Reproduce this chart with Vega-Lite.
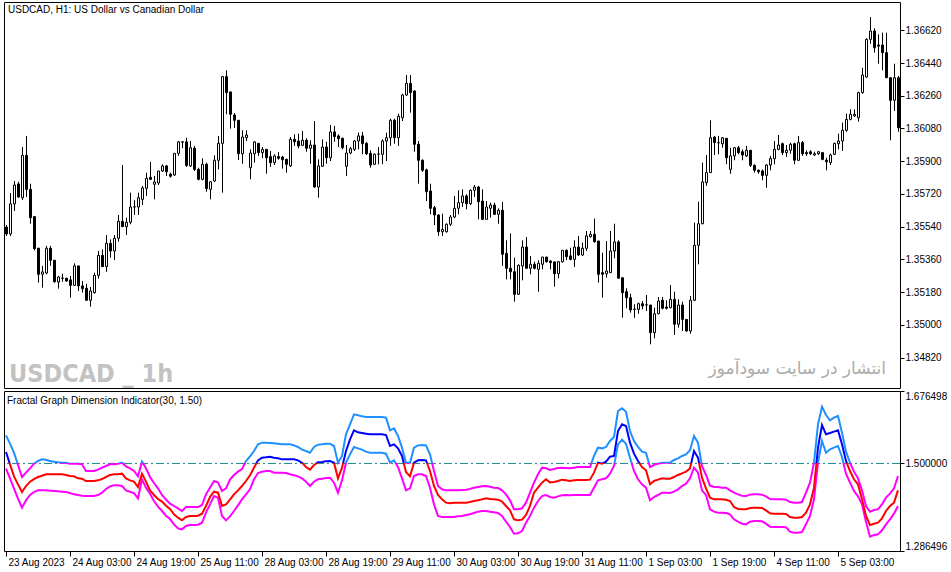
{
"$schema": "https://vega.github.io/schema/vega-lite/v6.json",
"background": "white",
"padding": {"left": 1, "top": 1, "right": 0, "bottom": 0},
"bounds": "flush",
"spacing": 3,
"data": {"values": [
{"t":"23 Aug 11:00","o":1.35538,"h":1.35549,"l":1.35489,"c":1.35500,"u":1.5685,"m":1.5278,"d":1.4872},
{"t":"23 Aug 12:00","o":1.35500,"h":1.35725,"l":1.35489,"c":1.35665,"u":1.5481,"m":1.4977,"d":1.4636},
{"t":"23 Aug 13:00","o":1.35665,"h":1.35791,"l":1.35626,"c":1.35769,"u":1.5261,"m":1.4685,"d":1.4385},
{"t":"23 Aug 14:00","o":1.35775,"h":1.35787,"l":1.35699,"c":1.35703,"u":1.4961,"m":1.4490,"d":1.4141},
{"t":"23 Aug 15:00","o":1.35699,"h":1.35978,"l":1.35687,"c":1.35932,"u":1.4669,"m":1.4303,"d":1.3921},
{"t":"23 Aug 16:00","o":1.35932,"h":1.36039,"l":1.35703,"c":1.35745,"u":1.4774,"m":1.4449,"d":1.4100},
{"t":"23 Aug 17:00","o":1.35745,"h":1.35776,"l":1.35556,"c":1.35589,"u":1.4880,"m":1.4555,"d":1.4230},
{"t":"23 Aug 18:00","o":1.35595,"h":1.35599,"l":1.35410,"c":1.35419,"u":1.4994,"m":1.4619,"d":1.4303},
{"t":"23 Aug 19:00","o":1.35421,"h":1.35424,"l":1.35232,"c":1.35278,"u":1.5059,"m":1.4669,"d":1.4343},
{"t":"23 Aug 20:00","o":1.35278,"h":1.35324,"l":1.35204,"c":1.35291,"u":1.5099,"m":1.4701,"d":1.4343},
{"t":"23 Aug 21:00","o":1.35285,"h":1.35434,"l":1.35278,"c":1.35421,"u":1.5091,"m":1.4734,"d":1.4343},
{"t":"23 Aug 22:00","o":1.35421,"h":1.35434,"l":1.35324,"c":1.35355,"u":1.5059,"m":1.4734,"d":1.4335},
{"t":"23 Aug 23:00","o":1.35355,"h":1.35355,"l":1.35232,"c":1.35237,"u":1.5043,"m":1.4734,"d":1.4327},
{"t":"24 Aug 00:00","o":1.35235,"h":1.35269,"l":1.35199,"c":1.35263,"u":1.5026,"m":1.4734,"d":1.4319},
{"t":"24 Aug 01:00","o":1.35256,"h":1.35281,"l":1.35237,"c":1.35257,"u":1.5018,"m":1.4734,"d":1.4311},
{"t":"24 Aug 02:00","o":1.35256,"h":1.35259,"l":1.35237,"c":1.35241,"u":1.5018,"m":1.4718,"d":1.4303},
{"t":"24 Aug 03:00","o":1.35247,"h":1.35269,"l":1.35149,"c":1.35217,"u":1.4994,"m":1.4693,"d":1.4278},
{"t":"24 Aug 04:00","o":1.35217,"h":1.35338,"l":1.35214,"c":1.35324,"u":1.4994,"m":1.4685,"d":1.4246},
{"t":"24 Aug 05:00","o":1.35324,"h":1.35324,"l":1.35186,"c":1.35214,"u":1.4994,"m":1.4636,"d":1.4230},
{"t":"24 Aug 06:00","o":1.35214,"h":1.35241,"l":1.35177,"c":1.35199,"u":1.4977,"m":1.4628,"d":1.4213},
{"t":"24 Aug 07:00","o":1.35201,"h":1.35226,"l":1.35135,"c":1.35135,"u":1.4815,"m":1.4571,"d":1.4205},
{"t":"24 Aug 08:00","o":1.35135,"h":1.35208,"l":1.35100,"c":1.35186,"u":1.4815,"m":1.4571,"d":1.4205},
{"t":"24 Aug 09:00","o":1.35177,"h":1.35287,"l":1.35171,"c":1.35272,"u":1.4815,"m":1.4571,"d":1.4205},
{"t":"24 Aug 10:00","o":1.35272,"h":1.35406,"l":1.35254,"c":1.35382,"u":1.4847,"m":1.4587,"d":1.4230},
{"t":"24 Aug 11:00","o":1.35382,"h":1.35415,"l":1.35320,"c":1.35320,"u":1.4896,"m":1.4619,"d":1.4286},
{"t":"24 Aug 12:00","o":1.35320,"h":1.35494,"l":1.35291,"c":1.35448,"u":1.4937,"m":1.4669,"d":1.4376},
{"t":"24 Aug 13:00","o":1.35448,"h":1.35470,"l":1.35369,"c":1.35406,"u":1.4977,"m":1.4718,"d":1.4441},
{"t":"24 Aug 14:00","o":1.35406,"h":1.35494,"l":1.35356,"c":1.35476,"u":1.4977,"m":1.4734,"d":1.4465},
{"t":"24 Aug 15:00","o":1.35476,"h":1.35604,"l":1.35457,"c":1.35569,"u":1.4994,"m":1.4734,"d":1.4465},
{"t":"24 Aug 16:00","o":1.35569,"h":1.35879,"l":1.35540,"c":1.35540,"u":1.5018,"m":1.4750,"d":1.4449},
{"t":"24 Aug 17:00","o":1.35540,"h":1.35589,"l":1.35494,"c":1.35564,"u":1.4929,"m":1.4636,"d":1.4343},
{"t":"24 Aug 18:00","o":1.35564,"h":1.35727,"l":1.35553,"c":1.35648,"u":1.4880,"m":1.4587,"d":1.4311},
{"t":"24 Aug 19:00","o":1.35648,"h":1.35685,"l":1.35604,"c":1.35649,"u":1.4815,"m":1.4555,"d":1.4278},
{"t":"24 Aug 20:00","o":1.35648,"h":1.35727,"l":1.35604,"c":1.35699,"u":1.4685,"m":1.4425,"d":1.4149},
{"t":"24 Aug 21:00","o":1.35690,"h":1.35764,"l":1.35659,"c":1.35753,"u":1.5043,"m":1.4750,"d":1.4612},
{"t":"24 Aug 22:00","o":1.35751,"h":1.35837,"l":1.35709,"c":1.35806,"u":1.4880,"m":1.4555,"d":1.4409},
{"t":"24 Aug 23:00","o":1.35811,"h":1.35896,"l":1.35797,"c":1.35800,"u":1.4669,"m":1.4343,"d":1.4262},
{"t":"25 Aug 00:00","o":1.35773,"h":1.35819,"l":1.35690,"c":1.35786,"u":1.4522,"m":1.4230,"d":1.4084},
{"t":"25 Aug 01:00","o":1.35780,"h":1.35846,"l":1.35769,"c":1.35846,"u":1.4392,"m":1.4133,"d":1.3946},
{"t":"25 Aug 02:00","o":1.35846,"h":1.35883,"l":1.35841,"c":1.35874,"u":1.4230,"m":1.4068,"d":1.3840},
{"t":"25 Aug 03:00","o":1.35874,"h":1.35879,"l":1.35819,"c":1.35842,"u":1.4116,"m":1.3970,"d":1.3726},
{"t":"25 Aug 04:00","o":1.35828,"h":1.35837,"l":1.35809,"c":1.35817,"u":1.4019,"m":1.3889,"d":1.3644},
{"t":"25 Aug 05:00","o":1.35824,"h":1.35943,"l":1.35819,"c":1.35943,"u":1.3962,"m":1.3759,"d":1.3515},
{"t":"25 Aug 06:00","o":1.35943,"h":1.36011,"l":1.35929,"c":1.36006,"u":1.3905,"m":1.3677,"d":1.3417},
{"t":"25 Aug 07:00","o":1.36006,"h":1.36011,"l":1.35971,"c":1.36005,"u":1.3840,"m":1.3612,"d":1.3393},
{"t":"25 Aug 08:00","o":1.36006,"h":1.36029,"l":1.35868,"c":1.35877,"u":1.3937,"m":1.3694,"d":1.3474},
{"t":"25 Aug 09:00","o":1.35874,"h":1.36011,"l":1.35868,"c":1.35974,"u":1.3937,"m":1.3718,"d":1.3498},
{"t":"25 Aug 10:00","o":1.35971,"h":1.35984,"l":1.35846,"c":1.35855,"u":1.3937,"m":1.3718,"d":1.3498},
{"t":"25 Aug 11:00","o":1.35855,"h":1.35864,"l":1.35795,"c":1.35800,"u":1.3937,"m":1.3726,"d":1.3507},
{"t":"25 Aug 12:00","o":1.35800,"h":1.35916,"l":1.35795,"c":1.35883,"u":1.3986,"m":1.3775,"d":1.3555},
{"t":"25 Aug 13:00","o":1.35883,"h":1.35892,"l":1.35732,"c":1.35749,"u":1.4246,"m":1.3962,"d":1.3799},
{"t":"25 Aug 14:00","o":1.35745,"h":1.35791,"l":1.35690,"c":1.35787,"u":1.4409,"m":1.4181,"d":1.4002},
{"t":"25 Aug 15:00","o":1.35791,"h":1.35932,"l":1.35786,"c":1.35905,"u":1.4571,"m":1.4311,"d":1.4205},
{"t":"25 Aug 16:00","o":1.35905,"h":1.36039,"l":1.35855,"c":1.35998,"u":1.4531,"m":1.4286,"d":1.4165},
{"t":"25 Aug 17:00","o":1.35998,"h":1.36369,"l":1.35727,"c":1.36365,"u":1.4327,"m":1.3962,"d":1.3718},
{"t":"25 Aug 18:00","o":1.36365,"h":1.36400,"l":1.36158,"c":1.36277,"u":1.4392,"m":1.4002,"d":1.3612},
{"t":"25 Aug 19:00","o":1.36281,"h":1.36281,"l":1.36079,"c":1.36158,"u":1.4604,"m":1.4116,"d":1.3710},
{"t":"25 Aug 20:00","o":1.36154,"h":1.36165,"l":1.36083,"c":1.36125,"u":1.4718,"m":1.4246,"d":1.3840},
{"t":"25 Aug 21:00","o":1.36125,"h":1.36125,"l":1.35907,"c":1.35941,"u":1.4799,"m":1.4343,"d":1.3978},
{"t":"25 Aug 22:00","o":1.35941,"h":1.36070,"l":1.35886,"c":1.36033,"u":1.4864,"m":1.4449,"d":1.4124},
{"t":"25 Aug 23:00","o":1.36029,"h":1.36070,"l":1.36011,"c":1.36044,"u":1.5059,"m":1.4571,"d":1.4246},
{"t":"28 Aug 00:00","o":1.35864,"h":1.35965,"l":1.35800,"c":1.35945,"u":1.5172,"m":1.4710,"d":1.4368},
{"t":"28 Aug 01:00","o":1.35941,"h":1.36011,"l":1.35892,"c":1.36006,"u":1.5302,"m":1.4896,"d":1.4612},
{"t":"28 Aug 02:00","o":1.35998,"h":1.35998,"l":1.35929,"c":1.35947,"u":1.5465,"m":1.5075,"d":1.4766},
{"t":"28 Aug 03:00","o":1.35947,"h":1.35978,"l":1.35916,"c":1.35965,"u":1.5506,"m":1.5140,"d":1.4799},
{"t":"28 Aug 04:00","o":1.35965,"h":1.35965,"l":1.35831,"c":1.35919,"u":1.5506,"m":1.5148,"d":1.4815},
{"t":"28 Aug 05:00","o":1.35925,"h":1.35956,"l":1.35868,"c":1.35892,"u":1.5498,"m":1.5164,"d":1.4815},
{"t":"28 Aug 06:00","o":1.35892,"h":1.35938,"l":1.35879,"c":1.35929,"u":1.5489,"m":1.5140,"d":1.4774},
{"t":"28 Aug 07:00","o":1.35925,"h":1.35950,"l":1.35908,"c":1.35916,"u":1.5481,"m":1.5124,"d":1.4774},
{"t":"28 Aug 08:00","o":1.35923,"h":1.35929,"l":1.35859,"c":1.35908,"u":1.5465,"m":1.5099,"d":1.4774},
{"t":"28 Aug 09:00","o":1.35910,"h":1.35914,"l":1.35837,"c":1.35883,"u":1.5465,"m":1.5099,"d":1.4766},
{"t":"28 Aug 10:00","o":1.35874,"h":1.36033,"l":1.35868,"c":1.36020,"u":1.5465,"m":1.5099,"d":1.4734},
{"t":"28 Aug 11:00","o":1.36020,"h":1.36048,"l":1.35984,"c":1.36007,"u":1.5440,"m":1.5099,"d":1.4710},
{"t":"28 Aug 12:00","o":1.36011,"h":1.36051,"l":1.35971,"c":1.35984,"u":1.5400,"m":1.5075,"d":1.4685},
{"t":"28 Aug 13:00","o":1.35987,"h":1.36066,"l":1.35984,"c":1.36015,"u":1.5335,"m":1.5018,"d":1.4636},
{"t":"28 Aug 14:00","o":1.36015,"h":1.36026,"l":1.35952,"c":1.35971,"u":1.5302,"m":1.4913,"d":1.4555},
{"t":"28 Aug 15:00","o":1.35971,"h":1.36015,"l":1.35886,"c":1.35989,"u":1.5261,"m":1.4847,"d":1.4449},
{"t":"28 Aug 16:00","o":1.35989,"h":1.36121,"l":1.35754,"c":1.35758,"u":1.5400,"m":1.4961,"d":1.4555},
{"t":"28 Aug 17:00","o":1.35758,"h":1.35910,"l":1.35699,"c":1.35874,"u":1.5457,"m":1.5026,"d":1.4612},
{"t":"28 Aug 18:00","o":1.35872,"h":1.36020,"l":1.35868,"c":1.35978,"u":1.5465,"m":1.5034,"d":1.4628},
{"t":"28 Aug 19:00","o":1.35978,"h":1.36007,"l":1.35886,"c":1.35919,"u":1.5481,"m":1.5051,"d":1.4644},
{"t":"28 Aug 20:00","o":1.35919,"h":1.36099,"l":1.35901,"c":1.36061,"u":1.5481,"m":1.5059,"d":1.4652},
{"t":"28 Aug 21:00","o":1.36061,"h":1.36094,"l":1.36007,"c":1.36035,"u":1.5424,"m":1.5018,"d":1.4531},
{"t":"28 Aug 22:00","o":1.36039,"h":1.36048,"l":1.35978,"c":1.36024,"u":1.5018,"m":1.4636,"d":1.4286},
{"t":"28 Aug 23:00","o":1.36026,"h":1.36029,"l":1.35965,"c":1.35974,"u":1.5181,"m":1.4896,"d":1.4587},
{"t":"29 Aug 00:00","o":1.35872,"h":1.35989,"l":1.35819,"c":1.35945,"u":1.5709,"m":1.5302,"d":1.5018},
{"t":"29 Aug 01:00","o":1.35945,"h":1.35978,"l":1.35938,"c":1.35969,"u":1.5952,"m":1.5587,"d":1.5221},
{"t":"29 Aug 02:00","o":1.35965,"h":1.36017,"l":1.35956,"c":1.36011,"u":1.6196,"m":1.5806,"d":1.5400},
{"t":"29 Aug 03:00","o":1.36011,"h":1.36057,"l":1.35965,"c":1.36039,"u":1.6172,"m":1.5757,"d":1.5367},
{"t":"29 Aug 04:00","o":1.36039,"h":1.36061,"l":1.35938,"c":1.35996,"u":1.6147,"m":1.5741,"d":1.5335},
{"t":"29 Aug 05:00","o":1.35998,"h":1.36006,"l":1.35934,"c":1.35941,"u":1.6131,"m":1.5725,"d":1.5286},
{"t":"29 Aug 06:00","o":1.35943,"h":1.35960,"l":1.35864,"c":1.35879,"u":1.6131,"m":1.5709,"d":1.5261},
{"t":"29 Aug 07:00","o":1.35883,"h":1.35943,"l":1.35879,"c":1.35938,"u":1.6131,"m":1.5709,"d":1.5261},
{"t":"29 Aug 08:00","o":1.35938,"h":1.35978,"l":1.35883,"c":1.35939,"u":1.6131,"m":1.5709,"d":1.5261},
{"t":"29 Aug 09:00","o":1.35938,"h":1.36020,"l":1.35883,"c":1.36011,"u":1.6131,"m":1.5709,"d":1.5261},
{"t":"29 Aug 10:00","o":1.36011,"h":1.36057,"l":1.35901,"c":1.36029,"u":1.6115,"m":1.5692,"d":1.5237},
{"t":"29 Aug 11:00","o":1.36029,"h":1.36134,"l":1.35984,"c":1.36125,"u":1.5806,"m":1.5424,"d":1.5018},
{"t":"29 Aug 12:00","o":1.36125,"h":1.36134,"l":1.35996,"c":1.36029,"u":1.5855,"m":1.5465,"d":1.5075},
{"t":"29 Aug 13:00","o":1.36029,"h":1.36161,"l":1.35984,"c":1.36147,"u":1.5668,"m":1.5367,"d":1.4913},
{"t":"29 Aug 14:00","o":1.36139,"h":1.36271,"l":1.36121,"c":1.36264,"u":1.5384,"m":1.5181,"d":1.4636},
{"t":"29 Aug 15:00","o":1.36264,"h":1.36374,"l":1.36259,"c":1.36328,"u":1.5018,"m":1.4791,"d":1.4343},
{"t":"29 Aug 16:00","o":1.36328,"h":1.36374,"l":1.36167,"c":1.36277,"u":1.5018,"m":1.4685,"d":1.4392},
{"t":"29 Aug 17:00","o":1.36286,"h":1.36290,"l":1.35952,"c":1.35993,"u":1.5384,"m":1.5018,"d":1.4693},
{"t":"29 Aug 18:00","o":1.35993,"h":1.36011,"l":1.35776,"c":1.35905,"u":1.5440,"m":1.5075,"d":1.4734},
{"t":"29 Aug 19:00","o":1.35905,"h":1.35910,"l":1.35841,"c":1.35850,"u":1.5449,"m":1.5083,"d":1.4734},
{"t":"29 Aug 20:00","o":1.35852,"h":1.35859,"l":1.35681,"c":1.35732,"u":1.5440,"m":1.5075,"d":1.4693},
{"t":"29 Aug 21:00","o":1.35736,"h":1.35776,"l":1.35608,"c":1.35641,"u":1.5221,"m":1.4815,"d":1.4409},
{"t":"29 Aug 22:00","o":1.35644,"h":1.35654,"l":1.35549,"c":1.35604,"u":1.4815,"m":1.4449,"d":1.4002},
{"t":"29 Aug 23:00","o":1.35604,"h":1.35608,"l":1.35489,"c":1.35512,"u":1.4449,"m":1.4230,"d":1.3718},
{"t":"30 Aug 00:00","o":1.35512,"h":1.35611,"l":1.35489,"c":1.35525,"u":1.4368,"m":1.4124,"d":1.3694},
{"t":"30 Aug 01:00","o":1.35512,"h":1.35558,"l":1.35507,"c":1.35553,"u":1.4343,"m":1.4043,"d":1.3694},
{"t":"30 Aug 02:00","o":1.35553,"h":1.35604,"l":1.35544,"c":1.35593,"u":1.4343,"m":1.4027,"d":1.3694},
{"t":"30 Aug 03:00","o":1.35593,"h":1.35709,"l":1.35586,"c":1.35641,"u":1.4343,"m":1.4043,"d":1.3694},
{"t":"30 Aug 04:00","o":1.35641,"h":1.35740,"l":1.35608,"c":1.35672,"u":1.4343,"m":1.4043,"d":1.3710},
{"t":"30 Aug 05:00","o":1.35672,"h":1.35745,"l":1.35648,"c":1.35709,"u":1.4352,"m":1.4043,"d":1.3718},
{"t":"30 Aug 06:00","o":1.35709,"h":1.35718,"l":1.35635,"c":1.35666,"u":1.4360,"m":1.4043,"d":1.3742},
{"t":"30 Aug 07:00","o":1.35666,"h":1.35745,"l":1.35659,"c":1.35740,"u":1.4376,"m":1.4059,"d":1.3759},
{"t":"30 Aug 08:00","o":1.35740,"h":1.35769,"l":1.35703,"c":1.35758,"u":1.4409,"m":1.4084,"d":1.3791},
{"t":"30 Aug 09:00","o":1.35758,"h":1.35764,"l":1.35580,"c":1.35677,"u":1.4425,"m":1.4100,"d":1.3824},
{"t":"30 Aug 10:00","o":1.35681,"h":1.35745,"l":1.35580,"c":1.35580,"u":1.4441,"m":1.4124,"d":1.3840},
{"t":"30 Aug 11:00","o":1.35580,"h":1.35681,"l":1.35580,"c":1.35648,"u":1.4449,"m":1.4149,"d":1.3840},
{"t":"30 Aug 12:00","o":1.35641,"h":1.35672,"l":1.35589,"c":1.35659,"u":1.4433,"m":1.4133,"d":1.3824},
{"t":"30 Aug 13:00","o":1.35659,"h":1.35672,"l":1.35604,"c":1.35608,"u":1.4409,"m":1.4124,"d":1.3807},
{"t":"30 Aug 14:00","o":1.35608,"h":1.35641,"l":1.35556,"c":1.35630,"u":1.4401,"m":1.4116,"d":1.3791},
{"t":"30 Aug 15:00","o":1.35630,"h":1.35676,"l":1.35324,"c":1.35388,"u":1.4343,"m":1.4068,"d":1.3718},
{"t":"30 Aug 16:00","o":1.35393,"h":1.35465,"l":1.35250,"c":1.35311,"u":1.4246,"m":1.3962,"d":1.3580},
{"t":"30 Aug 17:00","o":1.35311,"h":1.35503,"l":1.35250,"c":1.35292,"u":1.4100,"m":1.3856,"d":1.3450},
{"t":"30 Aug 18:00","o":1.35292,"h":1.35369,"l":1.35127,"c":1.35168,"u":1.3881,"m":1.3637,"d":1.3287},
{"t":"30 Aug 19:00","o":1.35168,"h":1.35333,"l":1.35164,"c":1.35327,"u":1.3881,"m":1.3612,"d":1.3295},
{"t":"30 Aug 20:00","o":1.35324,"h":1.35465,"l":1.35245,"c":1.35428,"u":1.3905,"m":1.3629,"d":1.3352},
{"t":"30 Aug 21:00","o":1.35428,"h":1.35483,"l":1.35311,"c":1.35311,"u":1.4043,"m":1.3742,"d":1.3555},
{"t":"30 Aug 22:00","o":1.35311,"h":1.35379,"l":1.35278,"c":1.35333,"u":1.4286,"m":1.3962,"d":1.3718},
{"t":"30 Aug 23:00","o":1.35333,"h":1.35347,"l":1.35305,"c":1.35311,"u":1.4531,"m":1.4286,"d":1.3921},
{"t":"31 Aug 00:00","o":1.35305,"h":1.35355,"l":1.35182,"c":1.35338,"u":1.4734,"m":1.4409,"d":1.4084},
{"t":"31 Aug 01:00","o":1.35333,"h":1.35373,"l":1.35305,"c":1.35373,"u":1.4896,"m":1.4531,"d":1.4205},
{"t":"31 Aug 02:00","o":1.35373,"h":1.35373,"l":1.35342,"c":1.35347,"u":1.4880,"m":1.4612,"d":1.4230},
{"t":"31 Aug 03:00","o":1.35351,"h":1.35355,"l":1.35305,"c":1.35342,"u":1.4839,"m":1.4538,"d":1.4181},
{"t":"31 Aug 04:00","o":1.35346,"h":1.35347,"l":1.35210,"c":1.35281,"u":1.4864,"m":1.4547,"d":1.4165},
{"t":"31 Aug 05:00","o":1.35281,"h":1.35351,"l":1.35256,"c":1.35347,"u":1.4888,"m":1.4571,"d":1.4197},
{"t":"31 Aug 06:00","o":1.35347,"h":1.35411,"l":1.35342,"c":1.35410,"u":1.4896,"m":1.4604,"d":1.4222},
{"t":"31 Aug 07:00","o":1.35410,"h":1.35415,"l":1.35356,"c":1.35375,"u":1.4888,"m":1.4587,"d":1.4230},
{"t":"31 Aug 08:00","o":1.35379,"h":1.35424,"l":1.35355,"c":1.35360,"u":1.4880,"m":1.4571,"d":1.4222},
{"t":"31 Aug 09:00","o":1.35360,"h":1.35465,"l":1.35318,"c":1.35428,"u":1.4896,"m":1.4587,"d":1.4230},
{"t":"31 Aug 10:00","o":1.35428,"h":1.35489,"l":1.35379,"c":1.35384,"u":1.4912,"m":1.4596,"d":1.4230},
{"t":"31 Aug 11:00","o":1.35384,"h":1.35452,"l":1.35379,"c":1.35421,"u":1.4912,"m":1.4596,"d":1.4230},
{"t":"31 Aug 12:00","o":1.35421,"h":1.35516,"l":1.35406,"c":1.35489,"u":1.4912,"m":1.4596,"d":1.4230},
{"t":"31 Aug 13:00","o":1.35485,"h":1.35516,"l":1.35479,"c":1.35498,"u":1.4912,"m":1.4604,"d":1.4230},
{"t":"31 Aug 14:00","o":1.35498,"h":1.35584,"l":1.35452,"c":1.35457,"u":1.5181,"m":1.4774,"d":1.4409},
{"t":"31 Aug 15:00","o":1.35461,"h":1.35461,"l":1.35232,"c":1.35278,"u":1.5384,"m":1.5018,"d":1.4587},
{"t":"31 Aug 16:00","o":1.35287,"h":1.35397,"l":1.35149,"c":1.35278,"u":1.5367,"m":1.4994,"d":1.4612},
{"t":"31 Aug 17:00","o":1.35281,"h":1.35461,"l":1.35259,"c":1.35296,"u":1.5400,"m":1.5043,"d":1.4636},
{"t":"31 Aug 18:00","o":1.35287,"h":1.35516,"l":1.35287,"c":1.35406,"u":1.5546,"m":1.5164,"d":1.4750},
{"t":"31 Aug 19:00","o":1.35406,"h":1.35556,"l":1.35366,"c":1.35456,"u":1.5644,"m":1.5181,"d":1.4937},
{"t":"31 Aug 20:00","o":1.35456,"h":1.35465,"l":1.35256,"c":1.35256,"u":1.6277,"m":1.5790,"d":1.5465},
{"t":"31 Aug 21:00","o":1.35259,"h":1.35259,"l":1.35039,"c":1.35177,"u":1.6342,"m":1.5952,"d":1.5579},
{"t":"31 Aug 22:00","o":1.35182,"h":1.35201,"l":1.35091,"c":1.35149,"u":1.6261,"m":1.5912,"d":1.5481},
{"t":"31 Aug 23:00","o":1.35149,"h":1.35171,"l":1.35067,"c":1.35082,"u":1.5790,"m":1.5506,"d":1.5140},
{"t":"1 Sep 00:00","o":1.35085,"h":1.35113,"l":1.35039,"c":1.35086,"u":1.5546,"m":1.5237,"d":1.4815},
{"t":"1 Sep 01:00","o":1.35085,"h":1.35122,"l":1.35061,"c":1.35116,"u":1.5400,"m":1.5059,"d":1.4612},
{"t":"1 Sep 02:00","o":1.35116,"h":1.35131,"l":1.35085,"c":1.35104,"u":1.5286,"m":1.4913,"d":1.4490},
{"t":"1 Sep 03:00","o":1.35109,"h":1.35164,"l":1.35076,"c":1.35110,"u":1.5261,"m":1.4831,"d":1.4409},
{"t":"1 Sep 04:00","o":1.35109,"h":1.35109,"l":1.34893,"c":1.34957,"u":1.4912,"m":1.4490,"d":1.4100},
{"t":"1 Sep 05:00","o":1.34957,"h":1.35094,"l":1.34926,"c":1.35061,"u":1.4961,"m":1.4571,"d":1.4181},
{"t":"1 Sep 06:00","o":1.35061,"h":1.35153,"l":1.35058,"c":1.35131,"u":1.4994,"m":1.4604,"d":1.4230},
{"t":"1 Sep 07:00","o":1.35135,"h":1.35153,"l":1.35085,"c":1.35091,"u":1.5018,"m":1.4636,"d":1.4286},
{"t":"1 Sep 08:00","o":1.35098,"h":1.35135,"l":1.35085,"c":1.35091,"u":1.5018,"m":1.4628,"d":1.4286},
{"t":"1 Sep 09:00","o":1.35094,"h":1.35219,"l":1.35091,"c":1.35140,"u":1.5018,"m":1.4628,"d":1.4278},
{"t":"1 Sep 10:00","o":1.35140,"h":1.35182,"l":1.34944,"c":1.35003,"u":1.5083,"m":1.4669,"d":1.4311},
{"t":"1 Sep 11:00","o":1.35003,"h":1.35140,"l":1.34984,"c":1.35109,"u":1.5124,"m":1.4718,"d":1.4368},
{"t":"1 Sep 12:00","o":1.35109,"h":1.35127,"l":1.34966,"c":1.35030,"u":1.5181,"m":1.4758,"d":1.4449},
{"t":"1 Sep 13:00","o":1.35030,"h":1.35030,"l":1.34962,"c":1.34966,"u":1.5221,"m":1.4799,"d":1.4506},
{"t":"1 Sep 14:00","o":1.34966,"h":1.35159,"l":1.34951,"c":1.35135,"u":1.5319,"m":1.4880,"d":1.4636},
{"t":"1 Sep 15:00","o":1.35135,"h":1.35562,"l":1.35131,"c":1.35437,"u":1.5668,"m":1.5302,"d":1.4896},
{"t":"1 Sep 16:00","o":1.35437,"h":1.35677,"l":1.35333,"c":1.35556,"u":1.5506,"m":1.5140,"d":1.4774},
{"t":"1 Sep 17:00","o":1.35556,"h":1.35892,"l":1.35553,"c":1.35786,"u":1.4937,"m":1.4652,"d":1.4343},
{"t":"1 Sep 18:00","o":1.35782,"h":1.35934,"l":1.35764,"c":1.35837,"u":1.4718,"m":1.4392,"d":1.4230},
{"t":"1 Sep 19:00","o":1.35837,"h":1.36125,"l":1.35837,"c":1.36029,"u":1.4457,"m":1.4165,"d":1.3881},
{"t":"1 Sep 20:00","o":1.36033,"h":1.36039,"l":1.35934,"c":1.36002,"u":1.4425,"m":1.4124,"d":1.3824},
{"t":"1 Sep 21:00","o":1.36002,"h":1.36039,"l":1.35938,"c":1.36001,"u":1.4425,"m":1.4124,"d":1.3799},
{"t":"1 Sep 22:00","o":1.35996,"h":1.36033,"l":1.35974,"c":1.36029,"u":1.4409,"m":1.4124,"d":1.3799},
{"t":"1 Sep 23:00","o":1.36026,"h":1.36026,"l":1.35883,"c":1.35919,"u":1.4409,"m":1.4116,"d":1.3791},
{"t":"4 Sep 00:00","o":1.35855,"h":1.35974,"l":1.35831,"c":1.35929,"u":1.4343,"m":1.4084,"d":1.3759},
{"t":"4 Sep 01:00","o":1.35929,"h":1.35978,"l":1.35905,"c":1.35974,"u":1.4286,"m":1.3937,"d":1.3637},
{"t":"4 Sep 02:00","o":1.35974,"h":1.35984,"l":1.35938,"c":1.35947,"u":1.4246,"m":1.3889,"d":1.3580},
{"t":"4 Sep 03:00","o":1.35952,"h":1.35965,"l":1.35905,"c":1.35934,"u":1.4214,"m":1.3881,"d":1.3531},
{"t":"4 Sep 04:00","o":1.35929,"h":1.35984,"l":1.35923,"c":1.35960,"u":1.4205,"m":1.3881,"d":1.3515},
{"t":"4 Sep 05:00","o":1.35960,"h":1.35960,"l":1.35868,"c":1.35877,"u":1.4238,"m":1.3913,"d":1.3580},
{"t":"4 Sep 06:00","o":1.35877,"h":1.35883,"l":1.35837,"c":1.35850,"u":1.4246,"m":1.3921,"d":1.3596},
{"t":"4 Sep 07:00","o":1.35850,"h":1.35855,"l":1.35831,"c":1.35842,"u":1.4246,"m":1.3921,"d":1.3596},
{"t":"4 Sep 08:00","o":1.35846,"h":1.35855,"l":1.35795,"c":1.35822,"u":1.4238,"m":1.3913,"d":1.3588},
{"t":"4 Sep 09:00","o":1.35822,"h":1.35883,"l":1.35754,"c":1.35879,"u":1.4197,"m":1.3856,"d":1.3531},
{"t":"4 Sep 10:00","o":1.35879,"h":1.35929,"l":1.35850,"c":1.35914,"u":1.4133,"m":1.3783,"d":1.3458},
{"t":"4 Sep 11:00","o":1.35914,"h":1.36011,"l":1.35883,"c":1.35965,"u":1.4124,"m":1.3775,"d":1.3450},
{"t":"4 Sep 12:00","o":1.35965,"h":1.36044,"l":1.35960,"c":1.35989,"u":1.4124,"m":1.3775,"d":1.3450},
{"t":"4 Sep 13:00","o":1.35996,"h":1.36002,"l":1.35934,"c":1.35947,"u":1.4124,"m":1.3775,"d":1.3450},
{"t":"4 Sep 14:00","o":1.35947,"h":1.35989,"l":1.35923,"c":1.35960,"u":1.4116,"m":1.3767,"d":1.3442},
{"t":"4 Sep 15:00","o":1.35960,"h":1.36002,"l":1.35941,"c":1.35993,"u":1.4059,"m":1.3694,"d":1.3336},
{"t":"4 Sep 16:00","o":1.35996,"h":1.36002,"l":1.35883,"c":1.35905,"u":1.4043,"m":1.3677,"d":1.3312},
{"t":"4 Sep 17:00","o":1.35905,"h":1.36039,"l":1.35901,"c":1.36002,"u":1.4043,"m":1.3677,"d":1.3312},
{"t":"4 Sep 18:00","o":1.36002,"h":1.36011,"l":1.35929,"c":1.35941,"u":1.4059,"m":1.3694,"d":1.3328},
{"t":"4 Sep 19:00","o":1.35947,"h":1.35960,"l":1.35929,"c":1.35941,"u":1.4286,"m":1.3799,"d":1.3515},
{"t":"4 Sep 20:00","o":1.35952,"h":1.35960,"l":1.35934,"c":1.35941,"u":1.4531,"m":1.4002,"d":1.3718},
{"t":"4 Sep 21:00","o":1.35934,"h":1.35952,"l":1.35929,"c":1.35941,"u":1.5018,"m":1.4409,"d":1.4124},
{"t":"4 Sep 22:00","o":1.35941,"h":1.35956,"l":1.35934,"c":1.35952,"u":1.5952,"m":1.5384,"d":1.5018},
{"t":"4 Sep 23:00","o":1.35947,"h":1.35947,"l":1.35905,"c":1.35910,"u":1.6383,"m":1.5936,"d":1.5546},
{"t":"5 Sep 00:00","o":1.35905,"h":1.35919,"l":1.35850,"c":1.35897,"u":1.6180,"m":1.5709,"d":1.5261},
{"t":"5 Sep 01:00","o":1.35892,"h":1.35941,"l":1.35879,"c":1.35934,"u":1.6050,"m":1.5741,"d":1.5343},
{"t":"5 Sep 02:00","o":1.35938,"h":1.36002,"l":1.35934,"c":1.35998,"u":1.6115,"m":1.5774,"d":1.5384},
{"t":"5 Sep 03:00","o":1.35996,"h":1.36051,"l":1.35965,"c":1.36011,"u":1.6156,"m":1.5806,"d":1.5424},
{"t":"5 Sep 04:00","o":1.36011,"h":1.36112,"l":1.35956,"c":1.36070,"u":1.5749,"m":1.5465,"d":1.5156},
{"t":"5 Sep 05:00","o":1.36070,"h":1.36161,"l":1.36062,"c":1.36130,"u":1.5286,"m":1.5059,"d":1.4750},
{"t":"5 Sep 06:00","o":1.36130,"h":1.36185,"l":1.36125,"c":1.36158,"u":1.5018,"m":1.4815,"d":1.4531},
{"t":"5 Sep 07:00","o":1.36149,"h":1.36185,"l":1.36143,"c":1.36158,"u":1.4799,"m":1.4612,"d":1.4327},
{"t":"5 Sep 08:00","o":1.36139,"h":1.36282,"l":1.36117,"c":1.36277,"u":1.4636,"m":1.4490,"d":1.4197},
{"t":"5 Sep 09:00","o":1.36277,"h":1.36414,"l":1.36271,"c":1.36374,"u":1.4343,"m":1.4124,"d":1.4002},
{"t":"5 Sep 10:00","o":1.36363,"h":1.36576,"l":1.36359,"c":1.36570,"u":1.3962,"m":1.3718,"d":1.3580},
{"t":"5 Sep 11:00","o":1.36570,"h":1.36693,"l":1.36546,"c":1.36616,"u":1.3824,"m":1.3499,"d":1.3214},
{"t":"5 Sep 12:00","o":1.36616,"h":1.36631,"l":1.36497,"c":1.36524,"u":1.3864,"m":1.3531,"d":1.3255},
{"t":"5 Sep 13:00","o":1.36539,"h":1.36598,"l":1.36436,"c":1.36533,"u":1.3881,"m":1.3555,"d":1.3271},
{"t":"5 Sep 14:00","o":1.36539,"h":1.36607,"l":1.36400,"c":1.36497,"u":1.4002,"m":1.3661,"d":1.3369},
{"t":"5 Sep 15:00","o":1.36497,"h":1.36607,"l":1.36359,"c":1.36359,"u":1.4165,"m":1.3840,"d":1.3515},
{"t":"5 Sep 16:00","o":1.36359,"h":1.36359,"l":1.36015,"c":1.36235,"u":1.4262,"m":1.3962,"d":1.3637},
{"t":"5 Sep 17:00","o":1.36235,"h":1.36436,"l":1.36176,"c":1.36359,"u":1.4392,"m":1.4043,"d":1.3775},
{"t":"5 Sep 18:00","o":1.36359,"h":1.36369,"l":1.36062,"c":1.36084,"u":1.4693,"m":1.4343,"d":1.3962}
]},
"resolve": {"scale": {"x": "shared", "y": "independent"}, "axis": {"x": "independent", "y": "independent"}},
"config": {
  "view": {"stroke": "black", "strokeWidth": 1},
  "axis": {"grid": false, "domainColor": "black", "tickColor": "black", "labelColor": "black", "labelFont": "Liberation Sans", "labelFontSize": 10}
},
"vconcat": [
{
  "width": 896, "height": 386,
  "layer": [
    {"mark": {"type": "rule", "color": "black", "strokeWidth": 1, "xOffset": 0.5},
     "encoding": {
       "x": {"field": "t", "type": "ordinal", "sort": null, "axis": null,
             "scale": {"type": "point", "padding": 0.5, "domain": ["23 Aug 11:00","23 Aug 12:00","23 Aug 13:00","23 Aug 14:00","23 Aug 15:00","23 Aug 16:00","23 Aug 17:00","23 Aug 18:00","23 Aug 19:00","23 Aug 20:00","23 Aug 21:00","23 Aug 22:00","23 Aug 23:00","24 Aug 00:00","24 Aug 01:00","24 Aug 02:00","24 Aug 03:00","24 Aug 04:00","24 Aug 05:00","24 Aug 06:00","24 Aug 07:00","24 Aug 08:00","24 Aug 09:00","24 Aug 10:00","24 Aug 11:00","24 Aug 12:00","24 Aug 13:00","24 Aug 14:00","24 Aug 15:00","24 Aug 16:00","24 Aug 17:00","24 Aug 18:00","24 Aug 19:00","24 Aug 20:00","24 Aug 21:00","24 Aug 22:00","24 Aug 23:00","25 Aug 00:00","25 Aug 01:00","25 Aug 02:00","25 Aug 03:00","25 Aug 04:00","25 Aug 05:00","25 Aug 06:00","25 Aug 07:00","25 Aug 08:00","25 Aug 09:00","25 Aug 10:00","25 Aug 11:00","25 Aug 12:00","25 Aug 13:00","25 Aug 14:00","25 Aug 15:00","25 Aug 16:00","25 Aug 17:00","25 Aug 18:00","25 Aug 19:00","25 Aug 20:00","25 Aug 21:00","25 Aug 22:00","25 Aug 23:00","28 Aug 00:00","28 Aug 01:00","28 Aug 02:00","28 Aug 03:00","28 Aug 04:00","28 Aug 05:00","28 Aug 06:00","28 Aug 07:00","28 Aug 08:00","28 Aug 09:00","28 Aug 10:00","28 Aug 11:00","28 Aug 12:00","28 Aug 13:00","28 Aug 14:00","28 Aug 15:00","28 Aug 16:00","28 Aug 17:00","28 Aug 18:00","28 Aug 19:00","28 Aug 20:00","28 Aug 21:00","28 Aug 22:00","28 Aug 23:00","29 Aug 00:00","29 Aug 01:00","29 Aug 02:00","29 Aug 03:00","29 Aug 04:00","29 Aug 05:00","29 Aug 06:00","29 Aug 07:00","29 Aug 08:00","29 Aug 09:00","29 Aug 10:00","29 Aug 11:00","29 Aug 12:00","29 Aug 13:00","29 Aug 14:00","29 Aug 15:00","29 Aug 16:00","29 Aug 17:00","29 Aug 18:00","29 Aug 19:00","29 Aug 20:00","29 Aug 21:00","29 Aug 22:00","29 Aug 23:00","30 Aug 00:00","30 Aug 01:00","30 Aug 02:00","30 Aug 03:00","30 Aug 04:00","30 Aug 05:00","30 Aug 06:00","30 Aug 07:00","30 Aug 08:00","30 Aug 09:00","30 Aug 10:00","30 Aug 11:00","30 Aug 12:00","30 Aug 13:00","30 Aug 14:00","30 Aug 15:00","30 Aug 16:00","30 Aug 17:00","30 Aug 18:00","30 Aug 19:00","30 Aug 20:00","30 Aug 21:00","30 Aug 22:00","30 Aug 23:00","31 Aug 00:00","31 Aug 01:00","31 Aug 02:00","31 Aug 03:00","31 Aug 04:00","31 Aug 05:00","31 Aug 06:00","31 Aug 07:00","31 Aug 08:00","31 Aug 09:00","31 Aug 10:00","31 Aug 11:00","31 Aug 12:00","31 Aug 13:00","31 Aug 14:00","31 Aug 15:00","31 Aug 16:00","31 Aug 17:00","31 Aug 18:00","31 Aug 19:00","31 Aug 20:00","31 Aug 21:00","31 Aug 22:00","31 Aug 23:00","1 Sep 00:00","1 Sep 01:00","1 Sep 02:00","1 Sep 03:00","1 Sep 04:00","1 Sep 05:00","1 Sep 06:00","1 Sep 07:00","1 Sep 08:00","1 Sep 09:00","1 Sep 10:00","1 Sep 11:00","1 Sep 12:00","1 Sep 13:00","1 Sep 14:00","1 Sep 15:00","1 Sep 16:00","1 Sep 17:00","1 Sep 18:00","1 Sep 19:00","1 Sep 20:00","1 Sep 21:00","1 Sep 22:00","1 Sep 23:00","4 Sep 00:00","4 Sep 01:00","4 Sep 02:00","4 Sep 03:00","4 Sep 04:00","4 Sep 05:00","4 Sep 06:00","4 Sep 07:00","4 Sep 08:00","4 Sep 09:00","4 Sep 10:00","4 Sep 11:00","4 Sep 12:00","4 Sep 13:00","4 Sep 14:00","4 Sep 15:00","4 Sep 16:00","4 Sep 17:00","4 Sep 18:00","4 Sep 19:00","4 Sep 20:00","4 Sep 21:00","4 Sep 22:00","4 Sep 23:00","5 Sep 00:00","5 Sep 01:00","5 Sep 02:00","5 Sep 03:00","5 Sep 04:00","5 Sep 05:00","5 Sep 06:00","5 Sep 07:00","5 Sep 08:00","5 Sep 09:00","5 Sep 10:00","5 Sep 11:00","5 Sep 12:00","5 Sep 13:00","5 Sep 14:00","5 Sep 15:00","5 Sep 16:00","5 Sep 17:00","5 Sep 18:00"]}},
       "y": {"field": "l", "type": "quantitative",
             "scale": {"domain": [1.346525, 1.367755], "nice": false, "zero": false},
             "axis": {"orient": "right", "values": [1.3482, 1.35, 1.3518, 1.3536, 1.3554, 1.3572, 1.359, 1.3608, 1.3626, 1.3644, 1.3662], "tickCount": 30, "format": ".5f", "tickSize": 4, "labelPadding": 1, "labelOverlap": false, "labelBound": false, "domain": false, "title": null}},
       "y2": {"field": "h"}
     }},
    {"mark": {"type": "bar", "size": 2, "stroke": "black", "strokeWidth": 1, "xOffset": 0.5},
     "encoding": {
       "x": {"field": "t", "type": "ordinal", "sort": null},
       "y": {"field": "o", "type": "quantitative", "title": null},
       "y2": {"field": "c"},
       "fill": {"condition": {"test": "datum.c >= datum.o", "value": "white"}, "value": "black"}
     }},
    {"data": {"values": [{}]},
     "mark": {"type": "text", "text": "USDCAD, H1:  US Dollar vs Canadian Dollar", "align": "left", "baseline": "middle", "dx": 2, "font": "Liberation Sans", "fontSize": 10, "color": "black"},
     "encoding": {"x": {"datum": "23 Aug 11:00", "type": "ordinal"}, "y": {"datum": 1.367288, "type": "quantitative"}}},
    {"data": {"values": [{}]},
     "mark": {"type": "text", "text": "USDCAD _ 1h", "align": "left", "baseline": "alphabetic", "dx": -1, "font": "DejaVu Sans Condensed, Liberation Sans", "fontSize": 25, "fontWeight": "bold", "color": "#C2C2C2"},
     "encoding": {"x": {"datum": "23 Aug 12:00", "type": "ordinal"}, "y": {"datum": 1.34685, "type": "quantitative"}}},
    {"data": {"values": [{}]},
     "mark": {"type": "text", "text": "انتشار در سایت سودآموز", "align": "right", "baseline": "alphabetic", "font": "DejaVu Sans", "fontSize": 17, "fontWeight": "normal", "color": "#ABABAB"},
     "encoding": {"x": {"datum": "5 Sep 15:00", "type": "ordinal"}, "y": {"datum": 1.347295, "type": "quantitative"}}}
  ]
},
{
  "width": 896, "height": 160,
  "layer": [
    {"data": {"values": [{}]},
     "mark": {"type": "rule", "color": "#148484", "strokeWidth": 1, "strokeDash": [8, 3, 2, 3]},
     "encoding": {"y": {"datum": 1.5, "type": "quantitative"}}},
    {"mark": {"type": "line", "strokeWidth": 2,
              "stroke": {"gradient": "linear", "x1": 0, "y1": 0, "x2": 0, "y2": 1,
                         "stops": [{"offset": 0, "color": "#1E90FF"}, {"offset": 0.5404, "color": "#1E90FF"}, {"offset": 0.5404, "color": "#FF00FF"}, {"offset": 1, "color": "#FF00FF"}]}},
     "encoding": {
       "x": {"field": "t", "type": "ordinal", "sort": null,
             "axis": {"values": ["23 Aug 11:00","24 Aug 03:00","24 Aug 19:00","25 Aug 11:00","28 Aug 03:00","28 Aug 19:00","29 Aug 11:00","30 Aug 03:00","30 Aug 19:00","31 Aug 11:00","1 Sep 03:00","1 Sep 19:00","4 Sep 11:00","5 Sep 03:00"],
                      "labelExpr": "datum.label == '23 Aug 11:00' ? '23 Aug 2023' : datum.label",
                      "labelAlign": "left", "labelAngle": 0, "labelBaseline": "top", "labelOffset": 2, "labelPadding": 1, "tickSize": 5, "labelOverlap": false, "labelBound": false, "domain": false, "title": null}},
       "y": {"field": "u", "type": "quantitative",
             "scale": {"domain": [1.286496, 1.676498], "nice": false, "zero": false},
             "axis": {"orient": "right", "values": [1.286496, 1.5, 1.676498], "tickCount": 10, "format": ".6f", "labelFlush": true, "labelOverlap": false, "tickSize": 4, "labelPadding": 1, "domain": false, "title": null}}
     }},
    {"mark": {"type": "line", "strokeWidth": 2,
              "stroke": {"gradient": "linear", "x1": 0, "y1": 0, "x2": 0, "y2": 1,
                         "stops": [{"offset": 0, "color": "#1E90FF"}, {"offset": 0.2448, "color": "#1E90FF"}, {"offset": 0.2448, "color": "#FF00FF"}, {"offset": 1, "color": "#FF00FF"}]}},
     "encoding": {
       "x": {"field": "t", "type": "ordinal", "sort": null},
       "y": {"field": "d", "type": "quantitative", "title": null}
     }},
    {"mark": {"type": "line", "strokeWidth": 2,
              "stroke": {"gradient": "linear", "x1": 0, "y1": 0, "x2": 0, "y2": 1,
                         "stops": [{"offset": 0, "color": "#0000FF"}, {"offset": 0.3881, "color": "#0000FF"}, {"offset": 0.3881, "color": "#FF0000"}, {"offset": 1, "color": "#FF0000"}]}},
     "encoding": {
       "x": {"field": "t", "type": "ordinal", "sort": null},
       "y": {"field": "m", "type": "quantitative", "title": null}
     }},
    {"data": {"values": [{}]},
     "mark": {"type": "text", "text": "Fractal Graph Dimension Indicator(30, 1.50)", "align": "left", "baseline": "middle", "dx": 1, "font": "Liberation Sans", "fontSize": 10, "color": "black"},
     "encoding": {"x": {"datum": "23 Aug 11:00", "type": "ordinal"}, "y": {"datum": 1.65212, "type": "quantitative"}}}
  ]
}
]
}
